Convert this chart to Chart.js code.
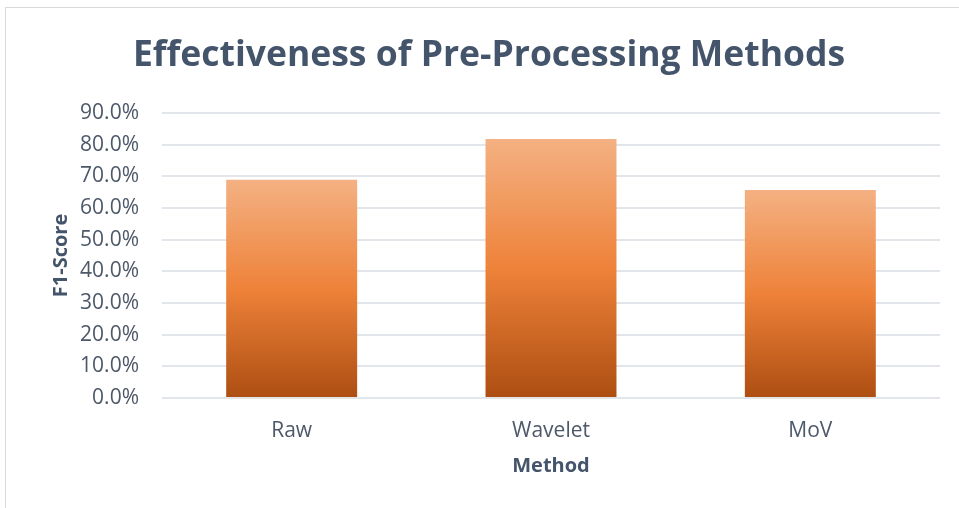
<!DOCTYPE html>
<html>
<head>
<meta charset="utf-8">
<script src="https://cdn.jsdelivr.net/npm/chart.js@4/dist/chart.umd.min.js"></script>
<style>
  html, body { margin: 0; padding: 0; background: #ffffff; }
  body { width: 959px; height: 508px; position: relative; overflow: hidden; }
  #frame {
    position: absolute; left: 5px; top: 7px; width: 1000px; height: 600px;
    border-top: 1px solid #D9D9D9; border-left: 1px solid #D9D9D9;
  }
  #wrap { position: absolute; left: 0; top: 0; width: 959px; height: 508px; }
</style>
</head>
<body>
<div id="frame"></div>
<div id="wrap"><canvas id="chart" width="959" height="508"></canvas></div>
<script>
// Pre-processing methods and their F1-scores
const methods = ['Raw', 'Wavelet', 'MoV'];
const f1Scores = [0.689, 0.818, 0.657];
const yTicks = [0, 0.1, 0.2, 0.3, 0.4, 0.5, 0.6, 0.7, 0.8, 0.9];

const textColor = '#4D5869';
const titleColor = '#44546A';
const fontFamily = '"Open Sans", "Noto Sans", sans-serif';

// Orange gradient running from each bar's top down to the baseline
function barGradient(ctx) {
  const chart = ctx.chart;
  const y = chart.scales && chart.scales.y;
  if (!y || ctx.type !== 'data') return '#ED7D31';
  const top = y.getPixelForValue(ctx.raw);
  const bottom = y.getPixelForValue(0);
  if (!isFinite(top) || !isFinite(bottom) || top === bottom) return '#ED7D31';
  const g = chart.ctx.createLinearGradient(0, top, 0, bottom);
  g.addColorStop(0, '#F4B183');
  g.addColorStop(0.5, '#EE8239');
  g.addColorStop(1, '#AD4E12');
  return g;
}

const chart = new Chart(document.getElementById('chart'), {
  type: 'bar',
  data: {
    labels: methods,
    datasets: [{
      label: 'F1-Score',
      data: f1Scores,
      backgroundColor: barGradient,
      borderWidth: 0,
      categoryPercentage: 1,
      barPercentage: 0.505
    }]
  },
  options: {
    responsive: false,
    animation: false,
    devicePixelRatio: 1,
    layout: { padding: { left: 38, right: 19, top: 0, bottom: 0 } },
    plugins: {
      legend: { display: false },
      tooltip: { enabled: false },
      title: {
        display: true,
        text: 'Effectiveness of Pre-Processing Methods',
        color: titleColor,
        font: { family: fontFamily, size: 35.5, weight: 'bold' },
        padding: { top: 35, bottom: 35.4 }
      }
    },
    scales: {
      x: {
        grid: { display: false, drawTicks: false },
        border: { display: false },
        ticks: { color: textColor, font: { family: fontFamily, size: 21 }, padding: 20 },
        title: {
          display: true, text: 'Method', color: titleColor,
          font: { family: fontFamily, size: 20, weight: 'bold' },
          padding: { top: 0, bottom: 30 }
        },
        afterFit: (s) => { s.height = 110; }
      },
      y: {
        min: 0,
        max: 0.9,
        afterBuildTicks: (s) => { s.ticks = yTicks.map(v => ({ value: v })); },
        grid: { color: '#E2E6EB', lineWidth: 2, drawTicks: false },
        border: { display: false },
        ticks: {
          color: textColor,
          font: { family: fontFamily, size: 21 },
          padding: 23,
          callback: (v) => (v * 100).toFixed(1) + '%'
        },
        title: {
          display: true, text: 'F1-Score', color: titleColor,
          font: { family: fontFamily, size: 20, weight: 'bold' },
          padding: { top: 11, bottom: 0 }
        },
        afterFit: (s) => { s.width = 124; }
      }
    }
  }
});
// Re-resolve bar colours once the scales hold their final pixel ranges
chart.update();
</script>
</body>
</html>
